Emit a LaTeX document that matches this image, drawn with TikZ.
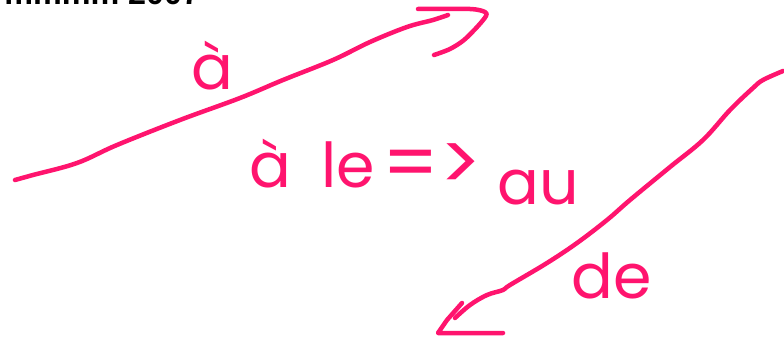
\documentclass[tikz,border=0pt]{standalone}
\usepackage{fontspec}
\setmainfont{Poppins}
\newfontfamily\printfont{Liberation Sans}
\definecolor{InkPink}{RGB}{255,20,110}

\begin{document}
\begin{tikzpicture}[x=0.025cm, y=-0.025cm, line cap=round, line join=round,
    ink/.style={draw=InkPink, line width=3.2pt},
    word/.style={text=InkPink, font=\fontsize{44}{50}\selectfont, inner sep=0pt, anchor=base}]
  \useasboundingbox (0,0) rectangle (784,342);
  \clip (0,0) rectangle (784,342);
  % heading, cut off by the top edge
  \node[anchor=base west, inner sep=0pt, font=\printfont\bfseries\fontsize{23}{26}\selectfont] (heading) at (4,4) {mmmm 2007};
  % upper stroke
  \draw[ink] plot[smooth, tension=0.6] coordinates {(15,180) (33,175) (77,163) (117,145) (180,120) (240,98) (283,80) (333,60) (370,42) (407,27) (433,20) (448,15)};
  \draw[ink] plot[smooth, tension=0.5] coordinates {(418,9) (470,9) (485,12) (486,16) (478,26) (464,40) (450,49) (434,55)};
  % lower stroke
  \draw[ink] plot[smooth, tension=0.6] coordinates {(783,71) (763,80) (753,88) (730,110) (703,140) (670,167) (630,200) (607,220) (577,243) (547,263) (510,285) (503,290) (487,295) (470,305) (455,318)};
  \draw[ink] (462,303) -- (447,320) -- (438,333) -- (503,333);
  % words
  \node[word] (aupper) at (212,89) {à};
  \node[word] (amid) at (270,187) {à};
  \node[word] (le) at (348,187) {le};
  \node[word, font=\fontsize{56}{60}\selectfont] (implies) at (432,190) {=>};
  \node[word] (au) at (538,204) {au};
  \node[word] (de) at (612,298) {de};
\end{tikzpicture}
\end{document}
